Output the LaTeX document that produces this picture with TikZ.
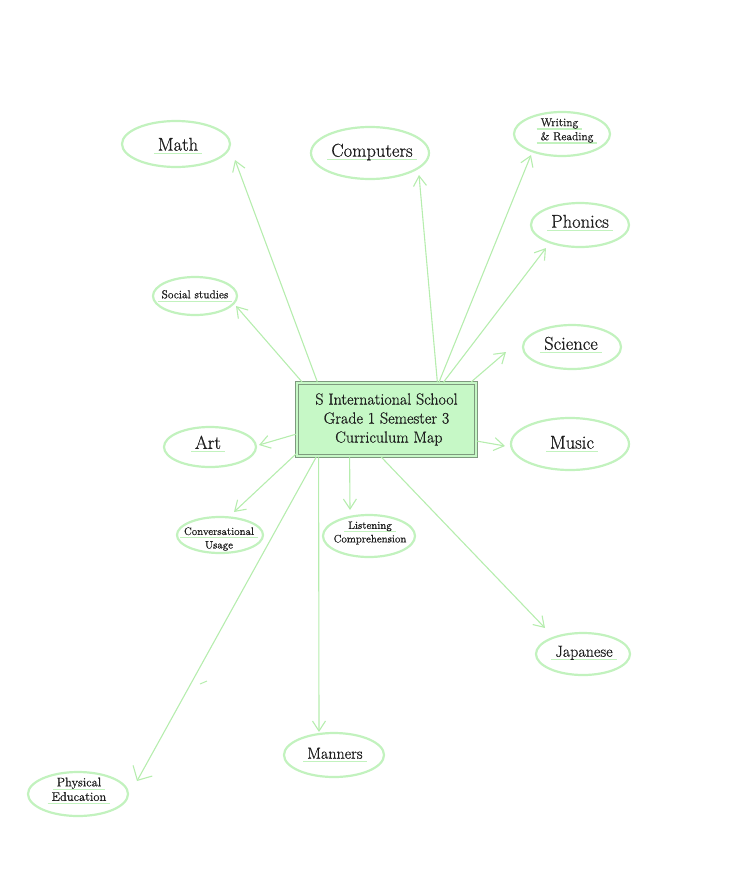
\documentclass[tikz,border=0pt]{standalone}
\usepackage{fontspec}
\setmainfont{Latin Modern Roman}[FakeBold=0.7]
\usetikzlibrary{arrows.meta,calc}
\definecolor{ellc}{HTML}{C2F2BE}
\definecolor{ulc}{HTML}{C2F2BE}
\definecolor{arrc}{HTML}{B6EDAE}
\definecolor{boxfill}{HTML}{C6F8C6}
\definecolor{boxline}{HTML}{7E9A7E}
\definecolor{txtc}{HTML}{1E1E1E}
\newsavebox\ulbox
\newcommand\ulin[1]{\sbox\ulbox{\hspace{4pt}#1\hspace{4pt}}\makebox[0pt][l]{\color{ulc}\rule[-3.5pt]{\wd\ulbox}{1.3pt}}\usebox\ulbox}
\newcommand\szL{\fontsize{18.5}{22}\selectfont}
\newcommand\szM{\fontsize{16}{19}\selectfont}
\newcommand\szS{\fontsize{11.5}{14}\selectfont}
\newcommand\szX{\fontsize{10.8}{13.5}\selectfont}
\begin{document}
\begin{tikzpicture}[x=1pt,y=-1pt,
  topic/.style={text=txtc, inner sep=0pt, align=center},
  oval/.style={draw=ellc, line width=2.2pt},
  link/.style={draw=arrc, line width=1.1pt, shorten <=1pt,
    -{Straight Barb[length=10pt,width=13pt,line width=1.1pt]}},
  bigtip/.style={-{Straight Barb[length=11pt,width=22pt,line width=1.1pt]}},
  centerbox/.style={draw=boxline, line width=0.8pt, double=boxfill, double distance=2.5pt,
    fill=boxfill, minimum width=179pt, minimum height=73pt, inner sep=0pt,
    align=center, text=txtc, font=\szM}]
\useasboundingbox (0,0) rectangle (735,878);

% topic ovals
\draw[oval] (176,144) ellipse [x radius=54pt, y radius=23pt];
\node[topic,font=\szL] (math) at (178,146) {\ulin{Math}};
\draw[oval] (370,153) ellipse [x radius=59pt, y radius=26pt];
\node[topic,font=\szL] (comp) at (372,152) {\ulin{Computers}};
\draw[oval] (562,134) ellipse [x radius=48pt, y radius=22pt];
\node[topic,font=\szS,align=left] (writ) at (567,131) {\ulin{Writing}\\\ulin{\& Reading}};
\draw[oval] (580,225) ellipse [x radius=49pt, y radius=22pt];
\node[topic,font=\szL] (phon) at (580,223) {\ulin{Phonics}};
\draw[oval] (195,296) ellipse [x radius=42pt, y radius=19pt];
\node[topic,font=\szS] (soc) at (195,296) {\ulin{Social studies}};
\draw[oval] (572,347) ellipse [x radius=49pt, y radius=22pt];
\node[topic,font=\szL] (sci) at (571,345) {\ulin{Science}};
\draw[oval] (210,447) ellipse [x radius=46pt, y radius=20pt];
\node[topic,font=\szL] (art) at (208,444) {\ulin{Art}};
\draw[oval] (570,444) ellipse [x radius=59pt, y radius=26pt];
\node[topic,font=\szL] (mus) at (572,444) {\ulin{Music}};
\draw[oval] (220,535) ellipse [x radius=43pt, y radius=18pt];
\node[topic,font=\szX] (conv) at (219,539) {\ulin{Conversational}\\Usage};
\draw[oval] (369,536) ellipse [x radius=46pt, y radius=21pt];
\node[topic,font=\szX] (list) at (370,533) {\ulin{Listening}\\Comprehension};
\draw[oval] (583,654) ellipse [x radius=47pt, y radius=21pt];
\node[topic,font=\szM] (jap) at (584,653) {\ulin{Japanese}};
\draw[oval] (334,755) ellipse [x radius=50pt, y radius=22pt];
\node[topic,font=\szM] (man) at (335,755) {\ulin{Manners}};
\draw[oval] (78,794) ellipse [x radius=50pt, y radius=22pt];
\node[topic,font=\fontsize{12.5}{14.5}\selectfont] (phys) at (79,791) {\ulin{Physical}\\\ulin{Education}};

% centre
\node[centerbox] (box) at (386.5,419.5) {S International School\\Grade 1 Semester 3\\\ Curriculum Map};

% free ends of connectors
\coordinate (mathE) at (235,160);
\coordinate (socE) at (236,306);
\coordinate (compE) at (419,175);
\coordinate (writE) at (531,155);
\coordinate (phonE) at (546,248);
\coordinate (sciE) at (506,352);
\coordinate (musE) at (505,446);
\coordinate (artE) at (259,445);
\coordinate (convE) at (234,512);
\coordinate (listE) at (350,510);
\coordinate (japE) at (545,628);
\coordinate (manE) at (319,732);
\coordinate (physE) at (137,781);

% connectors
\draw[link] ($(box.north west)+(21,0)$) -- (mathE);
\draw[link] ($(box.north west)+(6,0)$) -- (socE);
\draw[link] ($(box.north east)+(-39,0)$) -- (compE);
\draw[link] ($(box.north east)+(-38,1)$) -- (writE);
\draw[link] ($(box.north east)+(-34,1)$) -- (phonE);
\draw[link] ($(box.north east)+(-6,0)$) -- (sciE);
\draw[link] ($(box.east)+(0,21.5)$) -- (musE);
\draw[link] ($(box.west)+(0,14.5)$) -- (artE);
\draw[link] ($(box.south west)+(0,-3)$) -- (convE);
\draw[link] ($(box.south west)+(53,0)$) -- (listE);
\draw[link] ($(box.south west)+(84,0)$) -- (japE);
\draw[link] ($(box.south west)+(22,0)$) -- (manE);
\draw[link,bigtip] ($(box.south west)+(20,0)$) -- (physE);

% stray pen mark
\draw[draw=arrc, line width=1pt] (200,684) -- (207,681);
\end{tikzpicture}
\end{document}
